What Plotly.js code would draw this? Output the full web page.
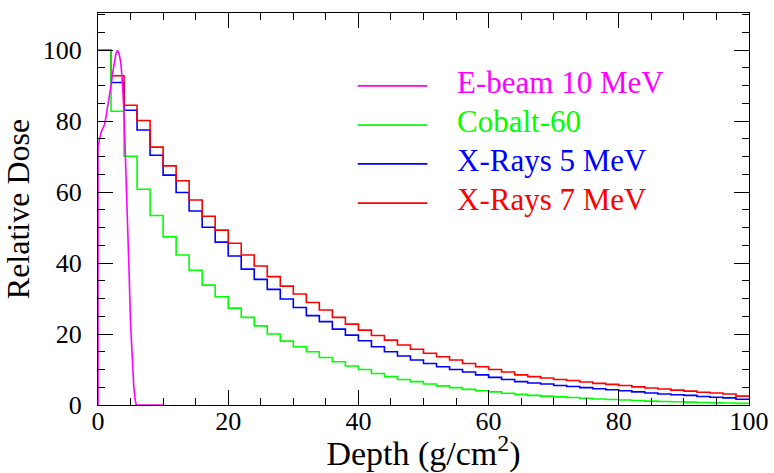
<!DOCTYPE html>
<html><head><meta charset="utf-8">
<script src="https://cdn.plot.ly/plotly-3.0.1.min.js"></script>
<style>html,body{margin:0;padding:0;background:#fff}#g{width:774px;height:473px}</style>
</head><body><div id="g"></div>
<script>
// bin left edges (g/cm^2), bin width 2
const binStart = [0,2,4,6,8,10,12,14,16,18,20,22,24,26,28,30,32,34,36,38,40,42,44,46,48,50,52,54,56,58,60,62,64,66,68,70,72,74,76,78,80,82,84,86,88,90,92,94,96,98];
const binEnd = 100;
const seriesNames = ["E-beam 10 MeV", "Cobalt-60", "X-Rays 5 MeV", "X-Rays 7 MeV"];
const seriesColors = ["#ff00ff", "#00ff00", "#0000ff", "#ff0000"];
const cobalt60 = [100,82.8,70.1,60.8,53.4,47.4,42.3,38.0,33.8,30.5,27.3,24.7,22.3,20.0,18.0,16.4,15.0,13.4,12.2,11.0,10.0,8.9,8.0,7.2,6.6,5.9,5.4,4.9,4.4,4.0,3.7,3.3,3.0,2.7,2.5,2.3,2.1,1.9,1.7,1.55,1.4,1.25,1.1,1.0,0.9,0.8,0.7,0.6,0.55,0.45];
const xray5 = [100,90.9,83.1,77.5,70.4,64.8,59.9,54.7,50.1,45.9,42.0,38.3,35.4,32.6,29.9,27.5,25.2,23.5,21.4,19.7,18.1,16.4,15.0,13.8,12.7,11.7,10.8,10.0,9.3,8.5,7.8,7.2,6.6,6.2,5.9,5.5,5.2,4.9,4.6,4.3,4.0,3.7,3.4,3.1,2.9,2.7,2.4,2.2,2.0,1.6];
const xray7 = [100,92.8,84.5,80.2,72.7,67.4,63.2,57.8,53.2,49.3,45.6,42.3,39.2,36.2,33.5,31.3,28.9,26.8,24.7,22.8,21.1,19.6,18.3,16.9,15.7,14.6,13.6,12.7,11.7,10.8,10.0,9.3,8.5,8.0,7.6,7.2,6.9,6.5,6.1,5.8,5.5,5.1,4.8,4.5,4.2,3.9,3.6,3.4,3.1,2.5];
const ebeamDepth = [0,0,0.25,0.5,0.75,1.0,1.25,1.5,1.75,2.0,2.25,2.5,2.75,3.0,3.25,3.5,3.75,4.0,4.25,4.5,4.75,5.0,5.25,5.5,5.75,5.9,10];
const ebeamDose  = [0,73,75,77,78,79,81.5,84,87,90,93.5,96.5,99,100,99,96.5,91,82,69,55,39,23,12,5,1,0,0];

function stepTrace(vals, color, name){
  return {x: binStart.concat([binEnd]), y: vals.concat([vals[vals.length-1]]),
    mode:'lines', line:{shape:'hv', color:color, width:1.6}, name:name, showlegend:false, hoverinfo:'skip'};
}
const traces = [
  stepTrace(xray5, seriesColors[2], seriesNames[2]),
  stepTrace(xray7, seriesColors[3], seriesNames[3]),
  stepTrace(cobalt60, seriesColors[1], seriesNames[1]),
  {x: ebeamDepth, y: ebeamDose, mode:'lines', line:{color:seriesColors[0], width:1.6}, name:seriesNames[0], showlegend:false, hoverinfo:'skip'}
];

const FONT = 'Liberation Serif, Times New Roman, serif';
const legendRows = [0.814, 0.714, 0.615, 0.515];
const shapes = [], annotations = [];
seriesNames.forEach((n,i)=>{
  shapes.push({type:'line', xref:'paper', yref:'paper', x0:0.399, x1:0.506, y0:legendRows[i], y1:legendRows[i], line:{color:seriesColors[i], width:1.6}});
  annotations.push({xref:'paper', yref:'paper', x:0.548, y:legendRows[i]+0.008, xanchor:'left', yanchor:'middle', text:n, showarrow:false, font:{family:FONT, size:31, color:seriesColors[i]}});
});

const axisCommon = {
  showgrid:false, zeroline:false, showline:true, linecolor:'#000', linewidth:1,
  mirror:'allticks', ticks:'inside', ticklen:15, tickcolor:'#000', tickwidth:1,
  tickfont:{family:FONT, size:26, color:'#000'},
  minor:{ticks:'inside', ticklen:7, dtick:5, tickcolor:'#000', tickwidth:1, showgrid:false}
};
const layout = {
  width:774, height:473, paper_bgcolor:'#fff', plot_bgcolor:'#fff',
  margin:{l:98, r:25, t:13, b:68},
  showlegend:false,
  xaxis: Object.assign({}, axisCommon, {range:[0,100], dtick:20, tick0:0, ticklabelstandoff:-7,
    title:{text:'Depth (g/cm<sup>2</sup>)', font:{family:FONT, size:34, color:'#000'}, standoff:0}}),
  yaxis: Object.assign({}, axisCommon, {range:[0,110.5], dtick:20, tick0:0, ticklabelstandoff:10,
    title:{text:'Relative Dose', font:{family:FONT, size:32, color:'#000'}, standoff:8}}),
  shapes:shapes, annotations:annotations
};
Plotly.newPlot('g', traces, layout, {displayModeBar:false, staticPlot:true});
</script></body></html>
